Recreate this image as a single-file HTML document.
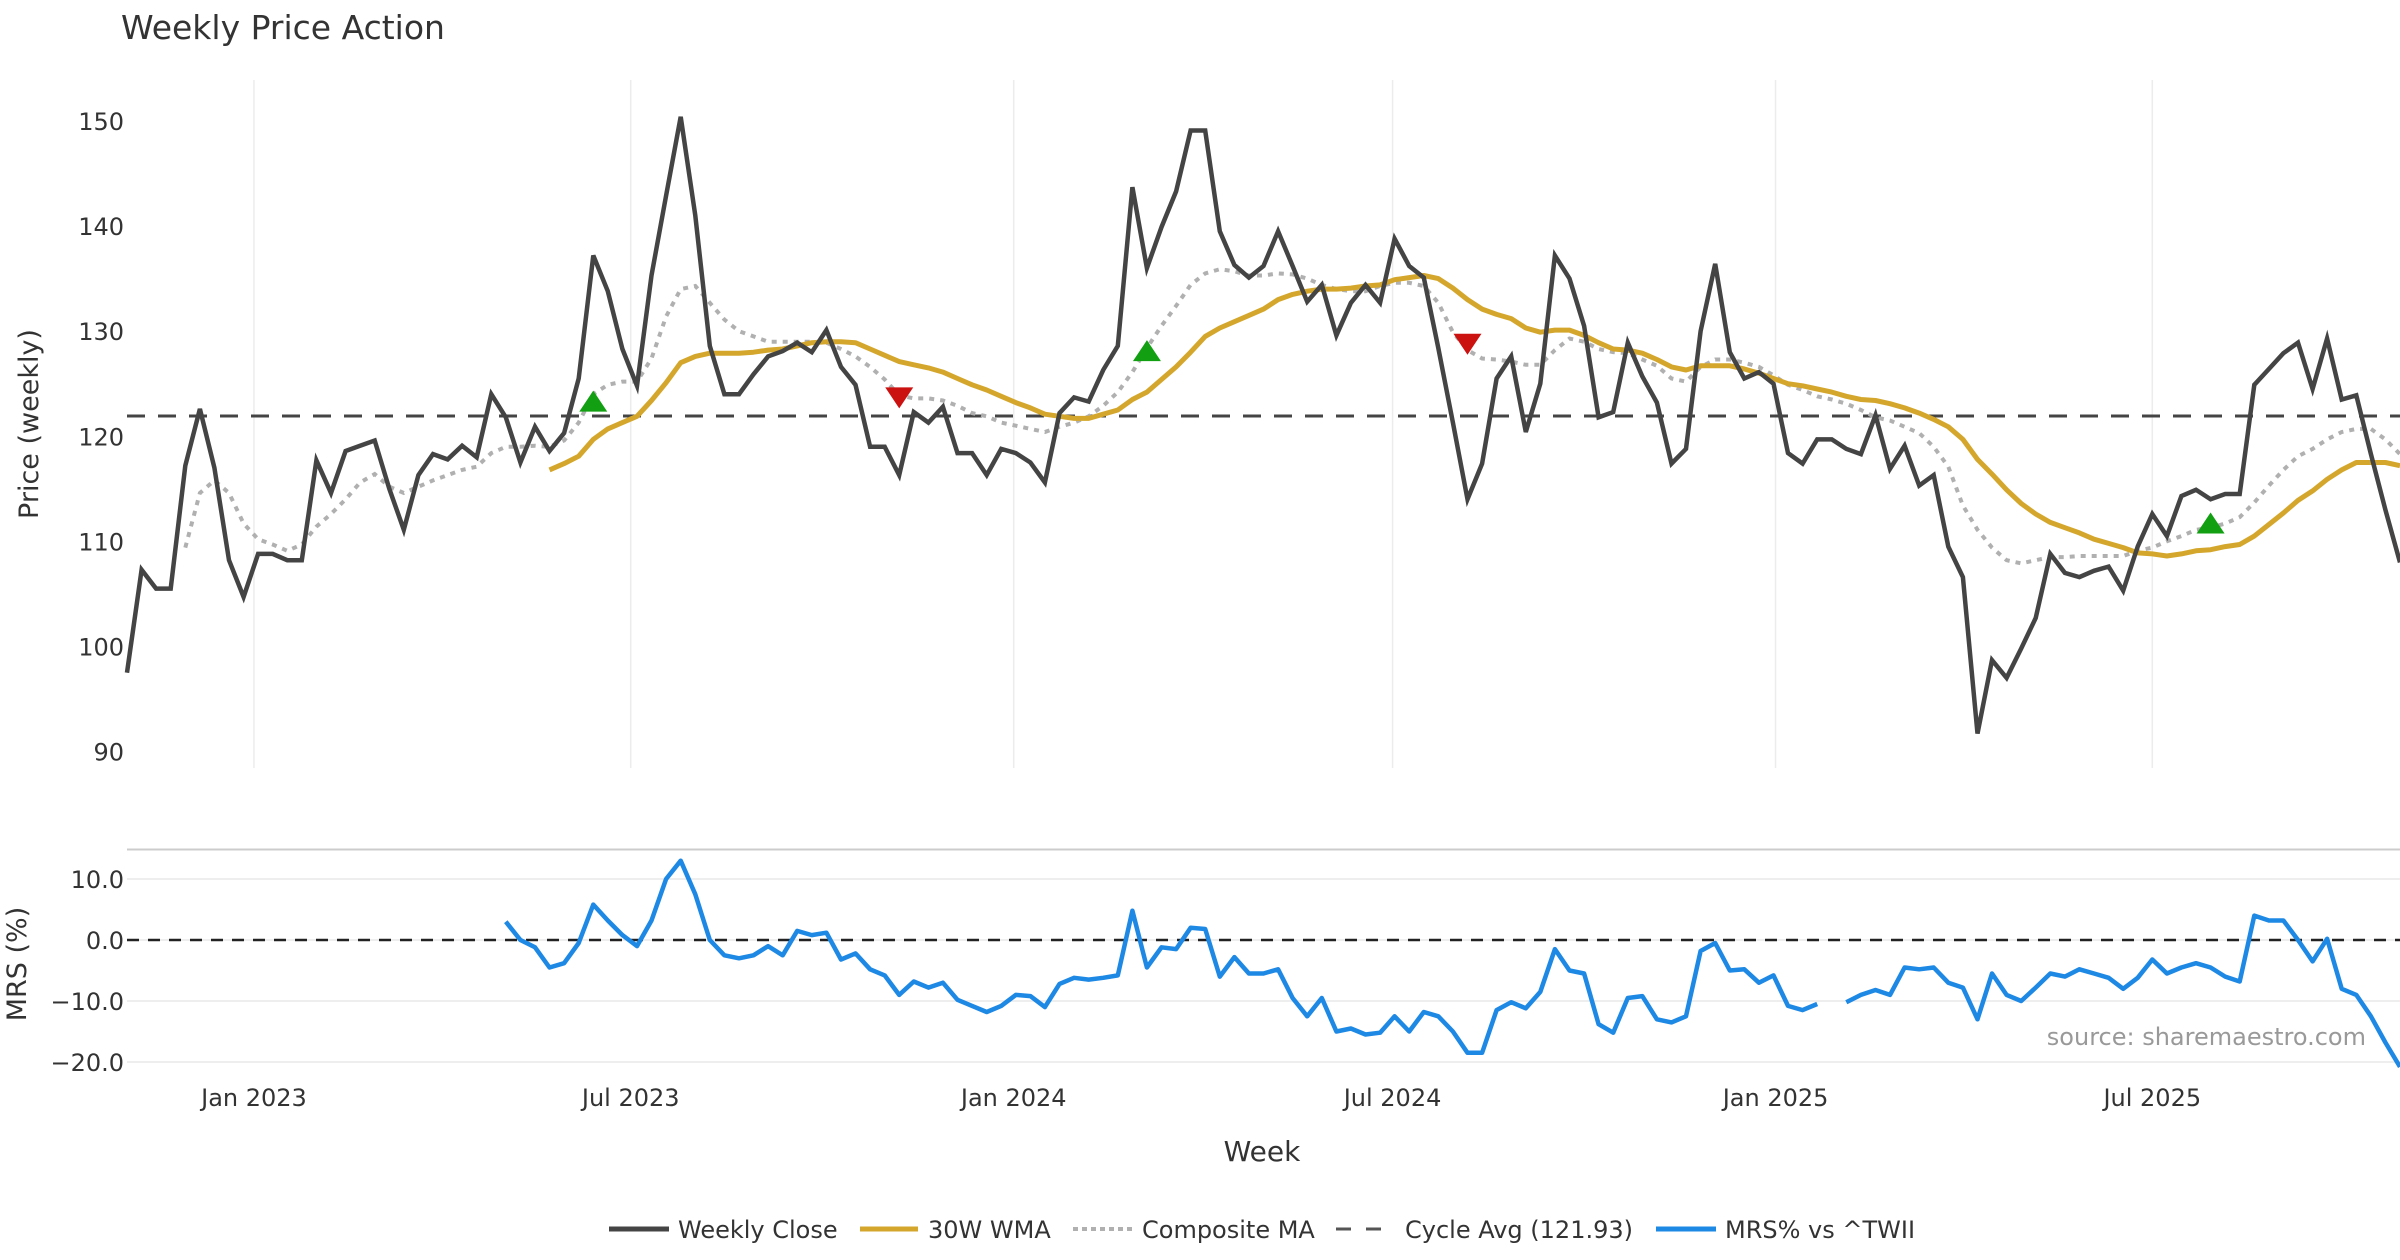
<!DOCTYPE html>
<html><head><meta charset="utf-8">
<style>
html,body{margin:0;padding:0;background:#fff;}
svg{display:block;font-family:"DejaVu Sans","Liberation Sans",sans-serif;}
</style></head>
<body>
<svg id="chart" width="2400" height="1260" viewBox="0 0 2400 1260" xmlns="http://www.w3.org/2000/svg">
<text x="121" y="39" font-size="33" fill="#333">Weekly Price Action</text>
<text transform="translate(38,424) rotate(-90)" text-anchor="middle" font-size="27" fill="#333">Price (weekly)</text>
<text transform="translate(26,964) rotate(-90)" text-anchor="middle" font-size="27" fill="#333">MRS (%)</text>
<text x="1262" y="1161" text-anchor="middle" font-size="28" fill="#333">Week</text>
<text x="2366" y="1045" text-anchor="end" font-size="24" fill="#999">source: sharemaestro.com</text>
<g id="grid"></g><g id="series"></g><g id="axes"></g>
<g id="legend">
 <line x1="609" y1="1229" x2="669" y2="1229" stroke="#444" stroke-width="5"/>
 <text x="678" y="1238" font-size="24" fill="#333">Weekly Close</text>
 <line x1="860" y1="1229" x2="918" y2="1229" stroke="#d4a72c" stroke-width="5"/>
 <text x="928" y="1238" font-size="24" fill="#333">30W WMA</text>
 <line x1="1073" y1="1229" x2="1133" y2="1229" stroke="#b0b0b0" stroke-width="4" stroke-dasharray="5,4"/>
 <text x="1142" y="1238" font-size="24" fill="#333">Composite MA</text>
 <line x1="1336" y1="1229" x2="1396" y2="1229" stroke="#555" stroke-width="3" stroke-dasharray="15,15"/>
 <text x="1405" y="1238" font-size="24" fill="#333">Cycle Avg (121.93)</text>
 <line x1="1656" y1="1229" x2="1716" y2="1229" stroke="#1e88e5" stroke-width="5"/>
 <text x="1725" y="1238" font-size="24" fill="#333">MRS% vs ^TWII</text>
</g>
</svg>
<script>
const startDate = "2022-11-01";
const tickDates = ["2023-01-01","2023-07-01","2024-01-01","2024-07-01","2025-01-01","2025-07-01"];
const tickLabels = ["Jan 2023","Jul 2023","Jan 2024","Jul 2024","Jan 2025","Jul 2025"];
const priceTicks = [90,100,110,120,130,140,150];
const mrsTicks = [10,0,-10,-20];
const cycleAvg = 121.93;
const closeVals = [97.5,107.3,105.5,105.5,117.2,122.6,117,108.2,104.7,108.8,108.8,108.2,108.2,117.7,114.6,118.6,119.1,119.6,115,111.1,116.3,118.3,117.8,119.1,118,124,121.8,117.5,120.9,118.6,120.3,125.5,137.2,133.8,128.3,124.8,135.3,142.9,150.4,141,128.6,124,124,125.9,127.6,128.1,128.9,128,130.1,126.6,124.9,119,119,116.3,122.3,121.3,122.8,118.4,118.4,116.3,118.8,118.4,117.5,115.6,122.2,123.7,123.3,126.3,128.6,143.7,136,139.9,143.3,149.1,149.1,139.5,136.3,135.1,136.2,139.5,136.2,132.8,134.4,129.6,132.7,134.4,132.7,138.8,136.2,135.1,128.4,121.3,114,117.4,125.5,127.6,120.4,125,137.2,135,130.5,121.8,122.3,128.9,125.7,123.2,117.4,118.8,130,136.4,128,125.5,126.1,125,118.4,117.4,119.7,119.7,118.8,118.3,122,116.9,119.1,115.3,116.3,109.5,106.6,91.7,98.7,97,99.8,102.7,108.8,107,106.6,107.2,107.6,105.3,109.5,112.6,110.5,114.3,114.9,114,114.5,114.5,124.9,126.4,127.9,128.9,124.5,129.3,123.5,123.9,118.3,113,108];
const wmaStart = 29;
const wmaVals = [116.8,117.4,118.1,119.7,120.7,121.3,121.9,123.4,125.1,127,127.6,127.9,127.9,127.9,128,128.2,128.3,128.6,128.9,129,129,128.9,128.3,127.7,127.1,126.8,126.5,126.1,125.5,124.9,124.4,123.8,123.2,122.7,122.1,121.9,121.7,121.7,122.1,122.5,123.5,124.2,125.4,126.6,128,129.5,130.3,130.9,131.5,132.1,133,133.5,133.8,134,134,134.1,134.3,134.4,134.9,135.1,135.3,135,134.1,133,132.1,131.6,131.2,130.3,129.9,130.1,130.1,129.6,128.9,128.3,128.2,127.9,127.3,126.6,126.3,126.7,126.7,126.7,126.4,126,125.5,125,124.8,124.5,124.2,123.8,123.5,123.4,123.1,122.7,122.2,121.6,120.9,119.7,117.8,116.4,114.9,113.6,112.6,111.8,111.3,110.8,110.2,109.8,109.4,108.9,108.8,108.6,108.8,109.1,109.2,109.5,109.7,110.5,111.6,112.7,113.9,114.8,115.9,116.8,117.5,117.5,117.5,117.2];
const compStart = 4;
const compVals = [109.4,114.6,115.8,114.6,111.7,110.2,109.7,109.1,109.7,111.4,112.6,114,115.6,116.4,115.2,114.6,115.2,115.8,116.3,116.8,117.1,118.4,119,119,119.1,119,119.6,121.3,124,124.9,125.2,125.2,127.4,131.4,134,134.3,132.7,131.1,130,129.5,129,129,129,129,128.9,128.3,127.6,126.6,125.4,123.9,123.6,123.6,123.4,122.9,122.2,121.9,121.3,121,120.7,120.4,120.9,121.3,121.9,122.9,124.2,126.1,128.4,130.5,132.4,134.4,135.5,135.9,135.7,135.3,135.3,135.5,135.4,135,134.4,134,133.8,133.8,134.3,134.6,134.6,134.3,132.7,129.9,128.2,127.4,127.3,127.1,126.8,126.8,128.2,129.3,129,128.3,128,127.9,127.3,126.7,125.5,125.2,126.6,127.3,127.3,127,126.6,125.8,124.9,124.4,123.8,123.5,123.1,122.5,121.8,121.5,120.9,120.3,119,117.1,113.4,111.1,109.4,108.2,107.9,108.2,108.5,108.5,108.6,108.6,108.6,108.6,109.1,109.4,110,110.5,111.1,111.3,111.7,112.3,113.7,115.3,116.8,118.1,118.8,119.7,120.4,120.7,120.7,119.7,118.3];
const mrsStart = 26;
const mrsVals = [3,0,-1.2,-4.5,-3.8,-0.5,5.8,3.2,0.8,-1,3.2,10,13,7.5,0,-2.5,-3,-2.5,-1,-2.5,1.5,0.8,1.2,-3.2,-2.2,-4.8,-5.8,-9,-6.8,-7.8,-7,-9.8,-10.8,-11.8,-10.8,-9,-9.2,-11,-7.2,-6.2,-6.5,-6.2,-5.8,4.8,-4.5,-1.2,-1.5,2,1.8,-6,-2.8,-5.5,-5.5,-4.8,-9.5,-12.5,-9.5,-15,-14.5,-15.5,-15.2,-12.5,-15,-11.8,-12.5,-15,-18.5,-18.5,-11.5,-10.2,-11.2,-8.5,-1.5,-5,-5.5,-13.8,-15.2,-9.5,-9.2,-13,-13.5,-12.5,-1.8,-0.5,-5,-4.8,-7,-5.8,-10.8,-11.5,-10.5,null,-10.2,-9,-8.2,-9,-4.5,-4.8,-4.5,-7,-7.8,-13,-5.5,-9,-10,-7.8,-5.5,-6,-4.8,-5.5,-6.2,-8,-6.2,-3.2,-5.5,-4.5,-3.8,-4.5,-6,-6.8,4,3.2,3.2,0,-3.5,0.2,-8,-9,-12.5,-16.8,-20.8];
const buyIdx = [32,70,143];
const buyVals = [123.2,128,111.6];
const sellIdx = [53,92];
const sellVals = [123.8,128.9];

const NS = "http://www.w3.org/2000/svg";
const N = closeVals.length;
const X0 = 127, X1 = 2400;
const x = i => X0 + (X1 - X0) * i / (N - 1);
const yP = v => 121 + (150 - v) * (751.5 - 121) / 60;
const yM = v => 940 - v * 6.1;
const weekIdx = d => (Date.parse(d) - Date.parse(startDate)) / (7 * 86400000);
function mk(tag, attrs, parent) {
  const e = document.createElementNS(NS, tag);
  for (const k in attrs) e.setAttribute(k, attrs[k]);
  document.getElementById(parent).appendChild(e);
  return e;
}
function path(vals, start, yf) {
  let d = "", pen = false;
  vals.forEach((v, j) => {
    if (v === null) { pen = false; return; }
    d += (pen ? "L" : "M") + x(start + j).toFixed(1) + "," + yf(v).toFixed(1);
    pen = true;
  });
  return d;
}
tickDates.forEach((d, i) => {
  const xx = x(weekIdx(d));
  const g = mk("line", {x1: xx, x2: xx, y1: 80, y2: 768, stroke: "#ececec", "stroke-width": 1.5}, "grid");
  
  
  const t = mk("text", {x: xx, y: 1106, "text-anchor": "middle", "font-size": 24, fill: "#333"}, "axes");
  t.textContent = tickLabels[i];
  
  
});
priceTicks.forEach(v => {
  const t = mk("text", {x: 124, y: yP(v) + 9, "text-anchor": "end", "font-size": 24, fill: "#333"}, "axes");
  t.textContent = v;
  
  
});
const panelTop = mk("line", {x1: X0, x2: X1, y1: 849.5, y2: 849.5, stroke: "#ccc", "stroke-width": 2}, "grid");


mrsTicks.forEach(v => {
  const l = mk("line", {x1: X0, x2: X1, y1: yM(v), y2: yM(v), stroke: "#eeeeee", "stroke-width": 2}, "grid");
  
  
  const t = mk("text", {x: 124, y: yM(v) + 9, "text-anchor": "end", "font-size": 24, fill: "#333"}, "axes");
  t.textContent = (v < 0 ? "\u2212" + Math.abs(v).toFixed(1) : v.toFixed(1));
  
  
});
let e;
e = mk("line", {x1: X0, x2: X1, y1: yP(cycleAvg), y2: yP(cycleAvg), stroke: "#444", "stroke-width": 3, "stroke-dasharray": "18,13"}, "series");


e = mk("path", {d: path(compVals, compStart, yP), fill: "none", stroke: "#b0b0b0", "stroke-width": 4, "stroke-dasharray": "5,6"}, "series");


e = mk("path", {d: path(wmaVals, wmaStart, yP), fill: "none", stroke: "#d4a72c", "stroke-width": 5, "stroke-linejoin": "round"}, "series");


e = mk("path", {d: path(closeVals, 0, yP), fill: "none", stroke: "#444", "stroke-width": 4.5, "stroke-linejoin": "miter"}, "series");


buyIdx.forEach((i, j) => {
  const cx = x(i), cy = yP(buyVals[j]);
  const m = mk("polygon", {points: `${cx-14},${cy+9} ${cx+14},${cy+9} ${cx},${cy-12}`, fill: "#12a012"}, "series");
  
  
});
sellIdx.forEach((i, j) => {
  const cx = x(i), cy = yP(sellVals[j]);
  const m = mk("polygon", {points: `${cx-14},${cy-9} ${cx+14},${cy-9} ${cx},${cy+12}`, fill: "#cc1111"}, "series");
  
  
});
e = mk("line", {x1: X0, x2: X1, y1: yM(0), y2: yM(0), stroke: "#222", "stroke-width": 2.5, "stroke-dasharray": "12,9"}, "series");


e = mk("path", {d: path(mrsVals, mrsStart, yM), fill: "none", stroke: "#1e88e5", "stroke-width": 4.5, "stroke-linejoin": "round"}, "series");


</script>
</body></html>
